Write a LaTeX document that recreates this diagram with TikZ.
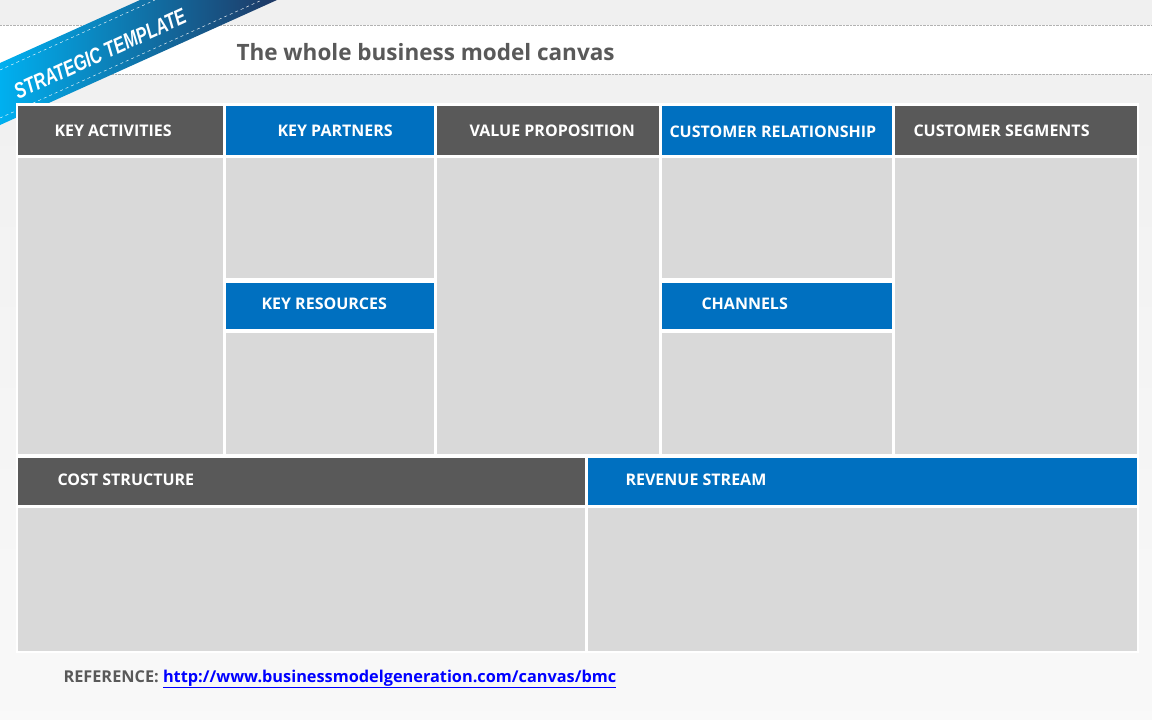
\documentclass[tikz,border=0pt]{standalone}
\usepackage{fontspec}
\setmainfont{Open Sans}
\newfontfamily\ribfont[FakeStretch=0.75]{Liberation Sans}
\begin{document}
\begin{tikzpicture}[x=1pt,y=-1pt,
  hd/.style={text=white,font=\bfseries\fontsize{16}{18}\selectfont,anchor=west},
  body/.style={fill=gray!30,draw=none}]
\definecolor{dk}{HTML}{595959}\definecolor{bl}{HTML}{0070C0}
\definecolor{rl}{HTML}{00B0F0}\definecolor{rr}{HTML}{1F3864}
\useasboundingbox (0,0) rectangle (1152,720);
\shade[top color=gray!12,bottom color=gray!5] (0,0) rectangle (1152,720);
\fill[white] (0,25) rectangle (1152,74);
\draw[gray!60,densely dotted] (0,25)--(1152,25) (0,74)--(1152,74);
\node[anchor=west,text=dk,font=\bfseries\fontsize{22.5}{26}\selectfont] (title) at (233,52) {The whole business model canvas};
% ribbon
\shade[left color=rl,right color=rr] (0,63)--(140,0)--(277,0)--(0,125)--cycle;
\draw[white,dashed,thin] (0,70)--(155,0) (0,118)--(262,0);
\node[rotate=24.5,text=white,font=\ribfont\bfseries\itshape\fontsize{22}{24}\selectfont] (rib) at (100,54) {STRATEGIC TEMPLATE};
% frame
\fill[white] (16,103) rectangle (1139,653);
% headers
\fill[dk] (18,106) rectangle (223,155);
\fill[bl] (226,106) rectangle (434,155);
\fill[dk] (437,106) rectangle (659,155);
\fill[bl] (662,106) rectangle (892,155);
\fill[dk] (895,106) rectangle (1137,155);
\node[hd] (ka) at (51,131) {KEY ACTIVITIES};
\node[hd] (kp) at (274,131) {KEY PARTNERS};
\node[hd] (vp) at (466,131) {VALUE PROPOSITION};
\node[hd] (cr) at (666,132) {CUSTOMER RELATIONSHIP};
\node[hd] (cs) at (910,131) {CUSTOMER SEGMENTS};
% bodies
\fill[body] (18,158) rectangle (223,454);
\fill[body] (226,158) rectangle (434,278);
\fill[bl] (226,283) rectangle (434,329);
\fill[body] (226,333) rectangle (434,454);
\fill[body] (437,158) rectangle (659,454);
\fill[body] (662,158) rectangle (892,278);
\fill[bl] (662,283) rectangle (892,329);
\fill[body] (662,333) rectangle (892,454);
\fill[body] (895,158) rectangle (1137,454);
\node[hd] (kr) at (258,304) {KEY RESOURCES};
\node[hd] (ch) at (698,304) {CHANNELS};
\fill[dk] (18,458) rectangle (585,505);
\fill[bl] (588,458) rectangle (1137,505);
\node[hd] (cost) at (54,480) {COST STRUCTURE};
\node[hd] (rev) at (622,480) {REVENUE STREAM};
\fill[body] (18,508) rectangle (585,651);
\fill[body] (588,508) rectangle (1137,651);
\node[anchor=west,font=\bfseries\fontsize{16.3}{18}\selectfont,text=dk] (ref) at (60,679) {REFERENCE: \textcolor{blue}{\underline{http://www.businessmodelgeneration.com/canvas/bmc}}};
\end{tikzpicture}
\end{document}
